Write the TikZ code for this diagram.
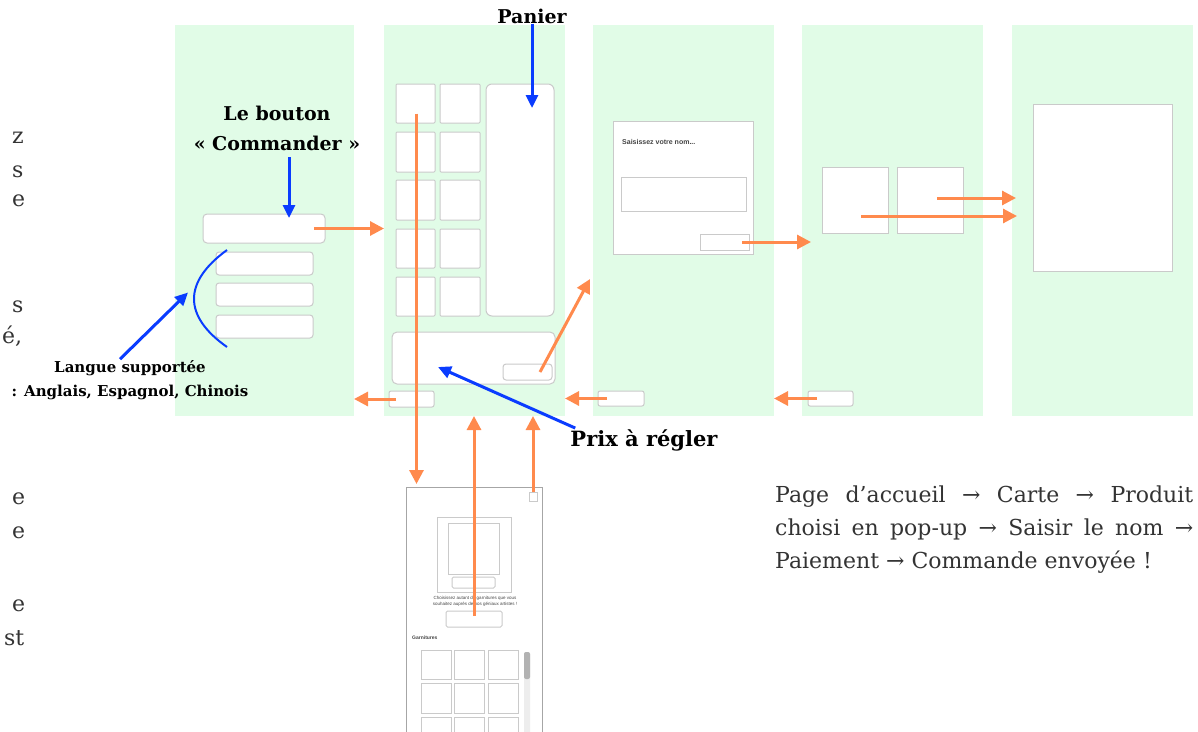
\documentclass[tikz,border=0pt]{standalone}
\usepackage{fontspec}
\setmainfont{DejaVu Serif}
\newfontfamily\uifont{Liberation Sans}
\usetikzlibrary{arrows.meta,calc}
\definecolor{panelgreen}{HTML}{E1FCE7}
\definecolor{boxgray}{HTML}{CACACA}
\definecolor{arrorange}{HTML}{FF8A4D}
\definecolor{arrblue}{HTML}{0A3CFF}
\definecolor{bodytext}{HTML}{333333}
\definecolor{uitext}{HTML}{444444}
% box given by its corners (x1,y1)-(x2,y2)
\newcommand\ui[6][]{\node[#1,minimum width={#5-#3},minimum height={#6-#4}] (#2) at ({(#3+#5)/2},{(#4+#6)/2}) {};}
\begin{document}
\begin{tikzpicture}[x=1pt,y=-1pt,
  panel/.style={fill=panelgreen,draw=none,inner sep=0,outer sep=0},
  wbox/.style={fill=white,draw=boxgray,line width=1pt,inner sep=0,outer sep=0},
  rbox/.style={wbox,rounded corners=3pt},
  oarrow/.style={draw=arrorange,line width=3pt,-{Triangle[length=14pt,width=14pt]}},
  barrow/.style={draw=arrblue,line width=3pt,-{Triangle[length=13pt,width=12pt]}},
  lbl/.style={font=\bfseries\fontsize{19}{30}\selectfont,align=center,inner sep=0},
  body/.style={font=\fontsize{22}{33}\selectfont,text=bodytext,inner sep=0},
  tiny/.style={font=\uifont\fontsize{4.5}{6}\selectfont,text=uitext,inner sep=0,align=center}]
\clip (0,0) rectangle (1198,731);

% screen panels
\ui[panel]{p1}{175}{25}{354}{416}
\ui[panel]{p2}{384}{25}{565}{416}
\ui[panel]{p3}{593}{25}{774}{416}
\ui[panel]{p4}{802}{25}{983}{416}
\ui[panel]{p5}{1012}{25}{1193}{416}

% clipped paragraph on the left margin
\node[body,anchor=base west] (m1) at (12,143) {z};
\node[body,anchor=base west] (m2) at (12,177) {s};
\node[body,anchor=base west] (m3) at (12,206) {e};
\node[body,anchor=base west] (m4) at (12,312) {s};
\node[body,anchor=base west] (m5) at (2,343) {é,};
\node[body,anchor=base west] (m6) at (12,504) {e};
\node[body,anchor=base west] (m7) at (12,538) {e};
\node[body,anchor=base west] (m8) at (12,611) {e};
\node[body,anchor=base west] (m9) at (4,645) {st};

% home page
\ui[rbox,rounded corners=4pt]{cmd}{203}{214}{325}{243}
\ui[rbox]{lang1}{216}{252}{313}{275}
\ui[rbox]{lang2}{216}{283}{313}{306}
\ui[rbox]{lang3}{216}{315}{313}{338}
\ui[rbox,rounded corners=2pt]{back2}{389}{391}{434}{407}

% menu page
\ui[wbox,rounded corners=1pt]{g11}{396}{84}{435}{123}
\ui[wbox,rounded corners=1pt]{g12}{440}{84}{480}{123}
\ui[wbox,rounded corners=1pt]{g21}{396}{132}{435}{172}
\ui[wbox,rounded corners=1pt]{g22}{440}{132}{480}{172}
\ui[wbox,rounded corners=1pt]{g31}{396}{180}{435}{220}
\ui[wbox,rounded corners=1pt]{g32}{440}{180}{480}{220}
\ui[wbox,rounded corners=1pt]{g41}{396}{229}{435}{268}
\ui[wbox,rounded corners=1pt]{g42}{440}{229}{480}{268}
\ui[wbox,rounded corners=1pt]{g51}{396}{277}{435}{316}
\ui[wbox,rounded corners=1pt]{g52}{440}{277}{480}{316}
\ui[rbox,rounded corners=6pt]{cart}{486}{84}{554}{316}
\ui[rbox,rounded corners=5pt]{price}{392}{332}{555}{384}
\ui[rbox]{pay}{503}{364}{552}{380}

% name page
\ui[wbox]{dlg}{613}{121}{753}{254}
\node[font=\uifont\bfseries\fontsize{7}{8}\selectfont,text=uitext,anchor=west,inner sep=0] (dlgtitle) at (622,142) {Saisissez votre nom...};
\ui[wbox]{input}{621}{177}{746}{211}
\ui[wbox]{ok}{700}{234}{749}{250}
\ui[rbox,rounded corners=2pt]{back3}{598}{391}{644}{406}

% payment page
\ui[wbox]{b41}{822}{167}{888}{233}
\ui[wbox]{b42}{897}{167}{963}{233}
\ui[rbox,rounded corners=2pt]{back4}{808}{391}{853}{406}

% confirmation page
\ui[wbox]{big}{1033}{104}{1172}{271}

% product pop-up
\ui[wbox,draw=black!35]{popup}{406}{487}{542}{760}
\ui[wbox]{close}{529}{492}{537}{501}
\ui[wbox]{imgframe}{437}{517}{511}{592}
\ui[wbox]{img}{448}{523}{499}{574}
\ui[rbox,rounded corners=1.5pt]{imgbar}{452}{577}{495}{588}
\node[tiny] (poptext) at (475,601) {Choisissez autant de garnitures que vous\\souhaitez auprès de nos géniaux artistes !};
\ui[rbox,rounded corners=1.5pt]{qty}{446}{611}{502}{627}
\node[font=\uifont\bfseries\fontsize{5}{6}\selectfont,text=uitext,anchor=west,inner sep=0] (garn) at (412,638) {Garnitures};
\ui[wbox]{t11}{421}{650}{451}{679}
\ui[wbox]{t12}{454}{650}{484}{679}
\ui[wbox]{t13}{488}{650}{518}{679}
\ui[wbox]{t21}{421}{683}{451}{713}
\ui[wbox]{t22}{454}{683}{484}{713}
\ui[wbox]{t23}{488}{683}{518}{713}
\ui[wbox]{t31}{421}{717}{451}{746}
\ui[wbox]{t32}{454}{717}{484}{746}
\ui[wbox]{t33}{488}{717}{518}{746}
\ui[panel,fill=black!7,rounded corners=2pt]{track}{524}{652}{530}{745}
\ui[panel,fill=black!30,rounded corners=2pt]{thumb}{524}{652}{530}{679}

% labels
\node[lbl] (lblcmd) at (277,128) {Le bouton\\« Commander »};
\node[lbl] (panier) at (532,16) {Panier};
\node[lbl,font=\bfseries\fontsize{21}{24}\selectfont] (prix) at (644,440) {Prix à régler};
\node[lbl,font=\bfseries\fontsize{15}{24}\selectfont] (langlbl) at (130,380) {Langue supportée\\: Anglais, Espagnol, Chinois};

% flow summary
\node[body,anchor=base west] (sum1) at (775,502) {\makebox[418pt][s]{Page d’accueil → Carte → Produit}};
\node[body,anchor=base west] (sum2) at (775,535) {\makebox[418pt][s]{choisi en pop-up → Saisir le nom →}};
\node[body,anchor=base west] (sum3) at (775,568) {Paiement → Commande envoyée !};

% navigation arrows
\draw[oarrow] ($(cmd.east)+(-11,0)$) -- (cmd.east -| p2.west);
\draw[oarrow] ($(back2.west)+(7,0)$) -- (back2.west -| p1.east);
\draw[oarrow] ($(g11.center)+(1,10)$) -- ($(g11.center |- popup.north)+(1,-3)$);
\coordinate (p3in) at (590,279);
\draw[oarrow] ($(pay.east)+(-12,0)$) -- (p3in);
\draw[oarrow] ($(qty.north)+(0,5)$) -- (qty.north |- p2.south);
\draw[oarrow] (close.north) -- (close.north |- p2.south);
\draw[oarrow] ($(ok.east)+(-7,0)$) -- ($(ok.east -| p4.west)+(9,0)$);
\draw[oarrow] ($(back3.west)+(9,0)$) -- (back3.west -| p2.east);
\draw[oarrow] ($(back4.west)+(9,0)$) -- (back4.west -| p3.east);
\draw[oarrow] ($(b42.center)+(7,-2)$) -- ($(b42.center -| p5.west)+(4,-2)$);
\draw[oarrow] ($(b41.center)+(6,16)$) -- ($(b41.center -| p5.west)+(5,16)$);

% annotation arrows
\draw[barrow] ($(cmd.north)+(25,-57)$) -- ($(cmd.north)+(25,4)$);
\coordinate (carttip) at ($(cart.north)+(12,24)$);
\draw[barrow] (panier.south) -- (panier.south |- carttip);
\draw[barrow] ($(prix.north west)+(5,-1)$) -- ($(price.south west)+(46,-17)$);
\draw[barrow] ($(langlbl.north)+(-10,-1)$) -- ($(lang2.west)+(-28,-2)$);
\draw[arrblue,line width=2pt] ($(lang1.north west)+(11,-2)$) .. controls (183,282) and (183,316) .. ($(lang3.south west)+(11,9)$);
\end{tikzpicture}
\end{document}
